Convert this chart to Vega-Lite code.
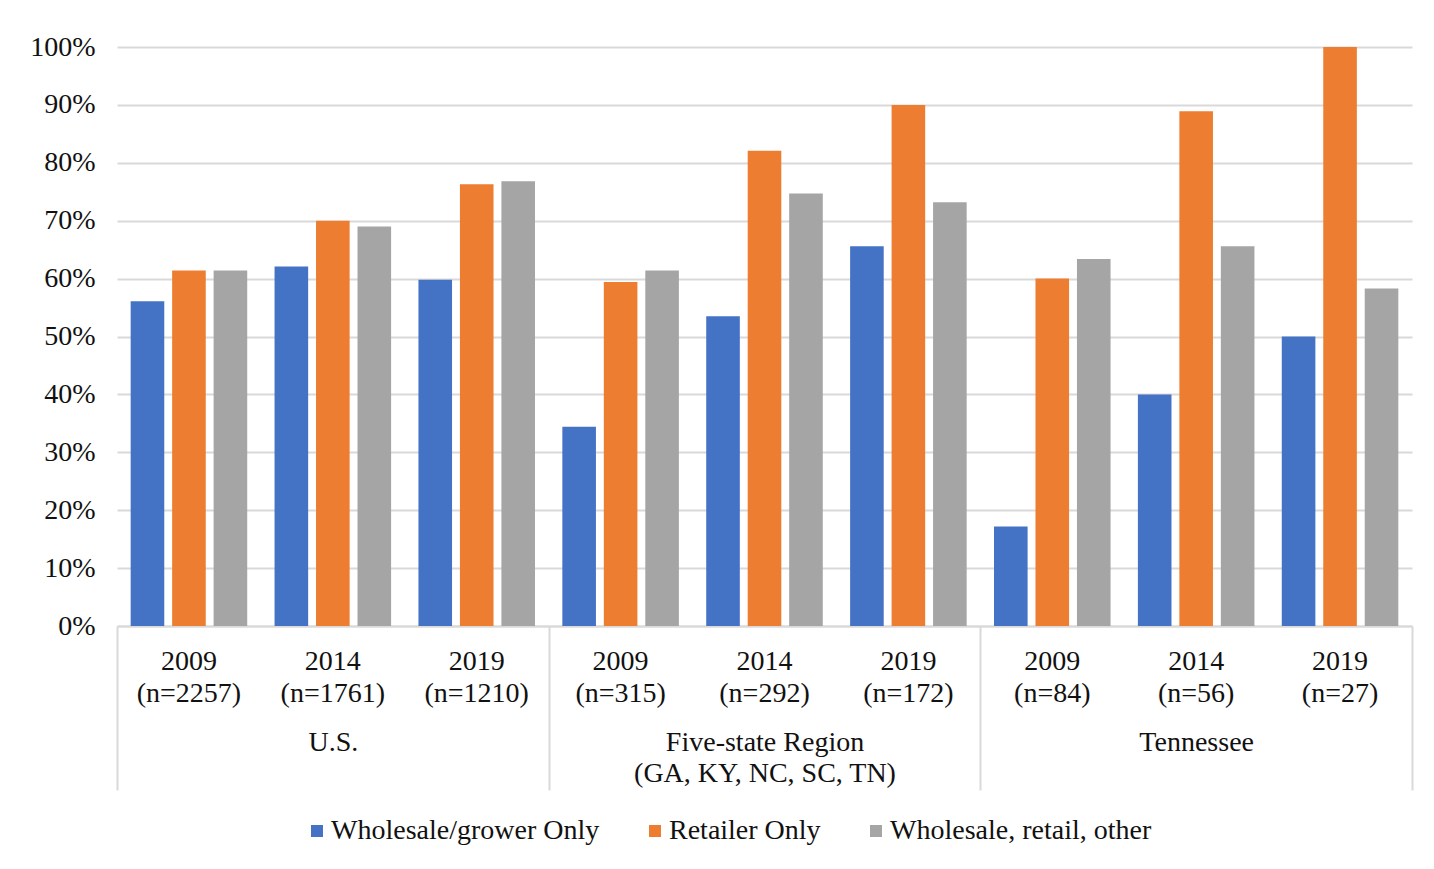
{
  "$schema": "https://vega.github.io/schema/vega-lite/v6.json",
  "width": 1295,
  "height": 579,
  "autosize": {"type": "none"},
  "padding": {"left": 117, "top": 47, "right": 22, "bottom": 243},
  "background": "white",
  "config": {
    "font": "Liberation Serif",
    "view": {"stroke": null},
    "axis": {"labelFont": "Liberation Serif", "labelColor": "#111111", "labelFontSize": 28}
  },
  "data": {
    "values": [
      {"region": "U.S.", "cat": "2009|(n=2257)", "series": "Wholesale/grower Only", "value": 0.561},
      {"region": "U.S.", "cat": "2009|(n=2257)", "series": "Retailer Only", "value": 0.614},
      {"region": "U.S.", "cat": "2009|(n=2257)", "series": "Wholesale, retail, other", "value": 0.614},
      {"region": "U.S.", "cat": "2014|(n=1761)", "series": "Wholesale/grower Only", "value": 0.621},
      {"region": "U.S.", "cat": "2014|(n=1761)", "series": "Retailer Only", "value": 0.700},
      {"region": "U.S.", "cat": "2014|(n=1761)", "series": "Wholesale, retail, other", "value": 0.690},
      {"region": "U.S.", "cat": "2019|(n=1210)", "series": "Wholesale/grower Only", "value": 0.598},
      {"region": "U.S.", "cat": "2019|(n=1210)", "series": "Retailer Only", "value": 0.763},
      {"region": "U.S.", "cat": "2019|(n=1210)", "series": "Wholesale, retail, other", "value": 0.768},
      {"region": "Five-state Region|(GA, KY, NC, SC, TN)", "cat": "2009|(n=315)", "series": "Wholesale/grower Only", "value": 0.344},
      {"region": "Five-state Region|(GA, KY, NC, SC, TN)", "cat": "2009|(n=315)", "series": "Retailer Only", "value": 0.594},
      {"region": "Five-state Region|(GA, KY, NC, SC, TN)", "cat": "2009|(n=315)", "series": "Wholesale, retail, other", "value": 0.614},
      {"region": "Five-state Region|(GA, KY, NC, SC, TN)", "cat": "2014|(n=292)", "series": "Wholesale/grower Only", "value": 0.535},
      {"region": "Five-state Region|(GA, KY, NC, SC, TN)", "cat": "2014|(n=292)", "series": "Retailer Only", "value": 0.821},
      {"region": "Five-state Region|(GA, KY, NC, SC, TN)", "cat": "2014|(n=292)", "series": "Wholesale, retail, other", "value": 0.747},
      {"region": "Five-state Region|(GA, KY, NC, SC, TN)", "cat": "2019|(n=172)", "series": "Wholesale/grower Only", "value": 0.656},
      {"region": "Five-state Region|(GA, KY, NC, SC, TN)", "cat": "2019|(n=172)", "series": "Retailer Only", "value": 0.900},
      {"region": "Five-state Region|(GA, KY, NC, SC, TN)", "cat": "2019|(n=172)", "series": "Wholesale, retail, other", "value": 0.732},
      {"region": "Tennessee", "cat": "2009|(n=84)", "series": "Wholesale/grower Only", "value": 0.172},
      {"region": "Tennessee", "cat": "2009|(n=84)", "series": "Retailer Only", "value": 0.600},
      {"region": "Tennessee", "cat": "2009|(n=84)", "series": "Wholesale, retail, other", "value": 0.634},
      {"region": "Tennessee", "cat": "2014|(n=56)", "series": "Wholesale/grower Only", "value": 0.400},
      {"region": "Tennessee", "cat": "2014|(n=56)", "series": "Retailer Only", "value": 0.889},
      {"region": "Tennessee", "cat": "2014|(n=56)", "series": "Wholesale, retail, other", "value": 0.656},
      {"region": "Tennessee", "cat": "2019|(n=27)", "series": "Wholesale/grower Only", "value": 0.500},
      {"region": "Tennessee", "cat": "2019|(n=27)", "series": "Retailer Only", "value": 1.000},
      {"region": "Tennessee", "cat": "2019|(n=27)", "series": "Wholesale, retail, other", "value": 0.583}
    ]
  },
  "layer": [
    {
      "mark": {"type": "bar"},
      "encoding": {
        "x": {
          "field": "cat",
          "type": "nominal",
          "sort": null,
          "scale": {"paddingInner": 0.19, "paddingOuter": 0.095},
          "axis": {
            "orient": "bottom",
            "title": null,
            "labelAngle": 0,
            "ticks": false,
            "domain": true,
            "domainColor": "#D9D9D9",
            "domainWidth": 2,
            "labelExpr": "split(datum.label, '|')",
            "labelBaseline": "top",
            "labelLineHeight": 32,
            "labelPadding": 21
          }
        },
        "xOffset": {
          "field": "series",
          "type": "nominal",
          "sort": ["Wholesale/grower Only", "Retailer Only", "Wholesale, retail, other"],
          "scale": {"paddingInner": 0.19, "paddingOuter": 0}
        },
        "y": {
          "field": "value",
          "type": "quantitative",
          "scale": {"domain": [0, 1], "nice": false},
          "axis": {
            "title": null,
            "format": ".0%",
            "values": [0, 0.1, 0.2, 0.3, 0.4, 0.5, 0.6, 0.7, 0.8, 0.9, 1.0],
            "ticks": false,
            "domain": false,
            "grid": true,
            "gridColor": "#D9D9D9",
            "gridWidth": 2,
            "labelPadding": 22
          }
        },
        "color": {
          "field": "series",
          "type": "nominal",
          "sort": ["Wholesale/grower Only", "Retailer Only", "Wholesale, retail, other"],
          "scale": {"range": ["#4472C4", "#ED7D31", "#A5A5A5"]},
          "legend": {
            "title": null,
            "orient": "none",
            "direction": "horizontal",
            "legendX": 186,
            "legendY": 770,
            "symbolType": "square",
            "symbolSize": 144,
            "symbolStrokeWidth": 0,
            "labelFont": "Liberation Serif",
            "labelFontSize": 28,
            "labelColor": "#111111",
            "labelOffset": 0,
            "columnPadding": 41,
            "labelLimit": 400
          }
        }
      }
    },
    {
      "mark": {"type": "bar", "opacity": 0},
      "encoding": {
        "x": {
          "field": "region",
          "type": "nominal",
          "sort": null,
          "scale": {"paddingInner": 0, "paddingOuter": 0},
          "axis": {
            "orient": "bottom",
            "title": null,
            "labelAngle": 0,
            "domain": false,
            "ticks": true,
            "tickBand": "extent",
            "tickSize": 164,
            "tickColor": "#D9D9D9",
            "tickWidth": 2,
            "labelExpr": "split(datum.label, '|')",
            "labelBaseline": "top",
            "labelLineHeight": 31,
            "labelPadding": -62,
            "labelLimit": 600
          }
        }
      }
    }
  ],
  "resolve": {"scale": {"x": "independent"}}
}
